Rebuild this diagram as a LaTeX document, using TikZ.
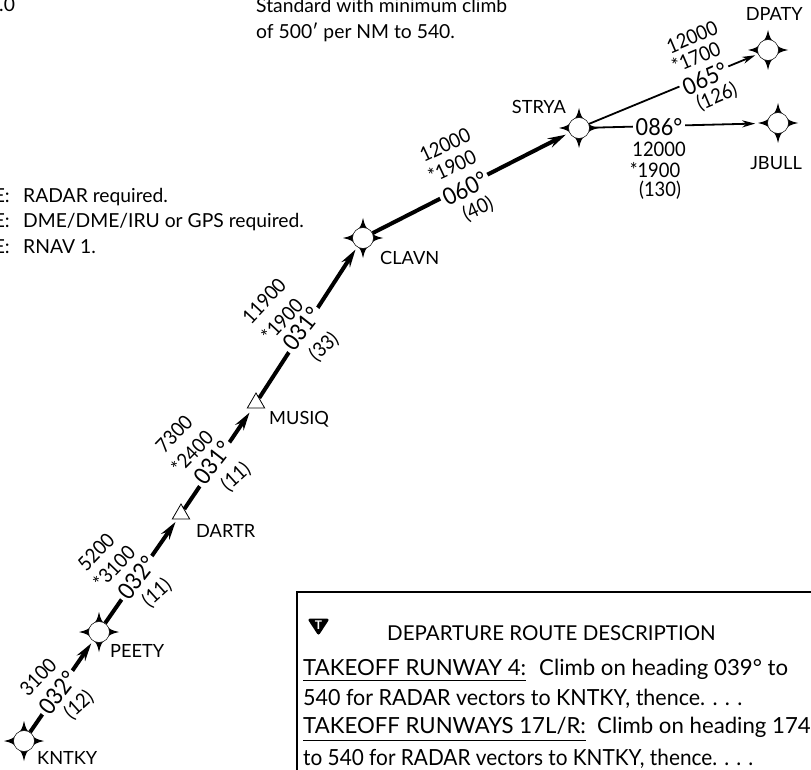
\documentclass[tikz,border=0pt]{standalone}
\usepackage{graphicx}
\usepackage{fontspec}
\setmainfont{Lato}
\newfontfamily\tallfont[FakeStretch=0.92]{Lato}
\usetikzlibrary{arrows.meta,shapes.geometric}
\tikzset{
  wstar/.pic={\fill (0,-20) .. controls (1.5,-13) and (3,-10) .. (6,-8) -- (8,-6)
     .. controls (10,-3) and (13,-1.5) .. (20,0)
     .. controls (13,1.5) and (10,3) .. (8,6) -- (6,8)
     .. controls (3,10) and (1.5,13) .. (0,20)
     .. controls (-1.5,13) and (-3,10) .. (-6,8) -- (-8,6)
     .. controls (-10,3) and (-13,1.5) .. (-20,0)
     .. controls (-13,-1.5) and (-10,-3) .. (-8,-6) -- (-6,-8)
     .. controls (-3,-10) and (-1.5,-13) .. (0,-20) -- cycle;},
  wptnode/.style={circle,draw,fill=white,line width=.5pt,minimum size=21pt,inner sep=0pt},
  trinode/.style={regular polygon,regular polygon sides=3,draw,fill=white,line width=.8pt,minimum size=20pt,inner sep=0pt},
  namelab/.style={font=\fontsize{18.2}{20}\selectfont,inner sep=0pt},
  alt/.style={font=\tallfont\fontsize{20}{22}\selectfont,inner sep=0pt},
  hdg/.style={font=\tallfont\fontsize{23.5}{26}\selectfont,inner sep=0pt,fill=white,text height=17pt,text depth=0.5pt,inner xsep=3pt},
  titletext/.style={font=\fontsize{20.5}{24}\selectfont,inner sep=0pt,anchor=base west},
  bigtext/.style={font=\fontsize{22.2}{24}\selectfont,inner sep=0pt,anchor=base west},
  note/.style={font=\fontsize{19.3}{22}\selectfont,inner sep=0pt},
  thickleg/.style={line width=4pt,-{Stealth[length=18pt,width=10pt,inset=6pt]}},
  thinleg/.style={line width=1.8pt,-{Stealth[length=13pt,width=7pt,inset=4pt]}},
  rule/.style={line width=1pt},
  boxline/.style={line width=2.4pt,line join=miter}
}
\newcommand\wpt[3]{\pic at (#2,#3) {wstar}; \node[wptnode] (#1) at (#2,#3) {};}
\begin{document}
\begin{tikzpicture}[x=1pt,y=-1pt]
\useasboundingbox (0,0) rectangle (811,770);
% fixes
\wpt{kntky}{24}{741}
\wpt{peety}{99}{632}
\wpt{clavn}{363}{238}
\wpt{strya}{579}{128}
\wpt{dpaty}{768}{50}
\wpt{jbull}{778}{123}
\node[trinode] (dartr) at (181,514) {};
\node[trinode] (musiq) at (256,403) {};
% legs
\draw[thickleg,shorten >=3pt] (kntky) -- (peety);
\draw[thickleg,shorten >=3pt] (peety) -- (dartr);
\draw[thickleg,shorten >=5pt] (dartr) -- (musiq);
\draw[thickleg,shorten >=3pt] (musiq) -- (clavn);
\draw[thickleg,shorten >=4pt] (clavn) -- (strya);
\draw[thinleg,shorten >=3pt] (strya) -- (dpaty);
\draw[thinleg,shorten >=12pt] (strya) -- (jbull);
% headings
\node[hdg,rotate=52] (h1) at (58,693) {032°};
\node[hdg,rotate=52] (h2) at (137,578) {032°};
\node[hdg,rotate=52] (h3) at (213,463) {031°};
\node[hdg,rotate=52] (h4) at (302,329) {031°};
\node[hdg,rotate=27] (h5) at (465,189) {060°};
\node[hdg,rotate=24] (h6) at (705,79) {065°};
\node[hdg] (h7) at (659,127) {086°};
% altitudes
\node[alt,rotate=46] (a1) at (38,677) {3100};
\node[alt,rotate=42] (d1) at (79,705) {(12)};
\node[alt,rotate=46] (a2) at (96,552) {5200};
\node[alt,rotate=46] (m2) at (114,567) {*3100};
\node[alt,rotate=42] (d2) at (157,593) {(11)};
\node[alt,rotate=46] (a3) at (174,434) {7300};
\node[alt,rotate=46] (m3) at (192,452) {*2400};
\node[alt,rotate=42] (d3) at (236,477) {(11)};
\node[alt,rotate=47] (a4) at (264,301) {11900};
\node[alt,rotate=47] (m4) at (282,320) {*1900};
\node[alt,rotate=42] (d4) at (324,347) {(33)};
\node[alt,rotate=25] (a5) at (445,145) {12000};
\node[alt,rotate=25] (m5) at (452,166) {*1900};
\node[alt,rotate=25] (d5) at (478,209) {(40)};
\node[alt,rotate=23] (a6) at (692,37) {12000};
\node[alt,rotate=23] (m6) at (696,57) {*1700};
\node[alt,rotate=23] (d6) at (717,97) {(126)};
\node[alt] (a7) at (659,149) {12000};
\node[alt] (m7) at (655,170) {*1900};
\node[alt] (d7) at (660,190) {(130)};
% names
\node[namelab,anchor=west] (n1) at (37,758) {KNTKY};
\node[namelab,anchor=west] (n2) at (110,651) {PEETY};
\node[namelab,anchor=west] (n3) at (196,531) {DARTR};
\node[namelab,anchor=west] (n4) at (269,419) {MUSIQ};
\node[namelab,anchor=west] (n5) at (380,258) {CLAVN};
\node[namelab,anchor=east] (n6) at (566,107) {STRYA};
\node[namelab,anchor=east] (n7) at (803,14) {DPATY};
\node[namelab,anchor=east] (n8) at (802,163) {JBULL};
% top and side notes
\node[note,anchor=base west] (t0) at (-1,12) {.0};
\node[note,anchor=base west] (t1) at (256,13) {Standard with minimum climb};
\node[note,anchor=base west] (t2) at (256,39) {of 500′ per NM to 540.};
\node[note,anchor=base east] (e1) at (10,203) {E:};
\node[note,anchor=base west] (s1) at (23,203) {RADAR required.};
\node[note,anchor=base east] (e2) at (10,228) {E:};
\node[note,anchor=base west] (s2) at (23,228) {DME/DME/IRU or GPS required.};
\node[note,anchor=base east] (e3) at (10,253) {E:};
\node[note,anchor=base west] (s3) at (23,253) {RNAV 1.};
% description box
\coordinate (bl) at (297,770);
\coordinate (tl) at (297,592);
\coordinate (tr) at (811,592);
\draw[boxline] (bl) -- (tl) -- (tr);
\filldraw[line width=3pt,line join=round] (310,620) -- (327,620) -- (318.5,633) -- cycle;
\node[font=\bfseries\fontsize{12}{12}\selectfont,text=white,inner sep=0pt] (ticon) at (318.5,625) {T};
\node[titletext] (b0) at (387,640) {DEPARTURE ROUTE DESCRIPTION};
\node[bigtext] (b1) at (303,675) {TAKEOFF RUNWAY 4:};
\draw[rule] ([yshift=-5.5pt]b1.base west) -- ([yshift=-5.5pt]b1.base east);
\node[bigtext] (b2) at (539,675) {Climb on heading 039° to};
\node[bigtext] (b3) at (303,705) {\scalebox{0.967}[1]{540 for RADAR vectors to KNTKY, thence. . . .}};
\node[bigtext] (b4) at (303,733) {TAKEOFF RUNWAYS 17L/R:};
\draw[rule] ([yshift=-7.5pt]b4.base west) -- ([yshift=-7.5pt]b4.base east);
\node[bigtext] (b5) at (597,733) {Climb on heading 174};
\node[bigtext] (b6) at (303,765) {\scalebox{0.937}[1]{to 540 for RADAR vectors to KNTKY, thence. . . .}};
\end{tikzpicture}
\end{document}
